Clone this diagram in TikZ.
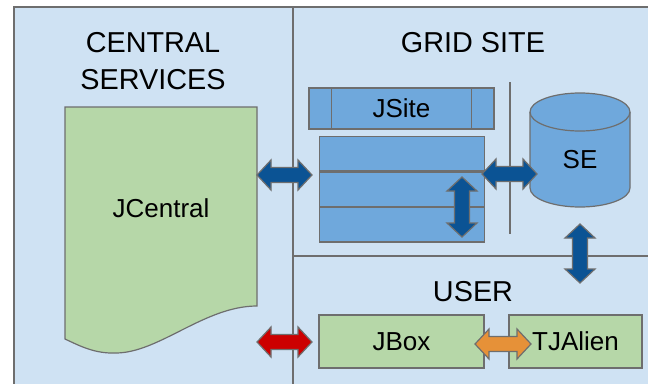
\documentclass[tikz,border=0pt]{standalone}
\usepackage{fontspec}
\setmainfont{Liberation Sans}
\usetikzlibrary{calc}
\definecolor{panel}{HTML}{CFE2F3}
\definecolor{edge}{HTML}{6E6E6E}
\definecolor{leaf}{HTML}{B6D7A8}
\definecolor{sky}{HTML}{6FA8DC}
\definecolor{navy}{HTML}{0B5394}
\definecolor{brick}{HTML}{CC0000}
\definecolor{amber}{HTML}{E69138}
\tikzset{
  box/.style={draw=edge,line width=1.2pt,inner sep=0pt},
  greenbox/.style={box,fill=leaf},
  bluebox/.style={box,fill=sky},
  lbl/.style={font=\fontsize{26}{30}\selectfont},
  ttl/.style={font=\fontsize{28.8}{37}\selectfont,align=center},
}
% double block arrow: colour, tip, tip
\newcommand\blockarr[3]{%
  \filldraw[fill=#1,draw=edge,line width=1.2pt,line join=miter]
    (#2) -- ($(#2)!14pt!(#3)!15pt!90:(#3)$) -- ($(#2)!14pt!(#3)!7.5pt!90:(#3)$)
    -- ($(#3)!14pt!(#2)!7.5pt!-90:(#2)$) -- ($(#3)!14pt!(#2)!15pt!-90:(#2)$)
    -- (#3) -- ($(#3)!14pt!(#2)!15pt!90:(#2)$) -- ($(#3)!14pt!(#2)!7.5pt!90:(#2)$)
    -- ($(#2)!14pt!(#3)!7.5pt!-90:(#3)$) -- ($(#2)!14pt!(#3)!15pt!-90:(#3)$) -- cycle;}
\begin{document}
\begin{tikzpicture}[x=1pt,y=-1pt]
\useasboundingbox (0,0) rectangle (648,383);
% regions
\draw[fill=panel,draw=edge,line width=1.5pt] (14,7) rectangle (660,395);
\draw[edge,line width=1.5pt] (293,7) -- (293,395) (293,256) -- (660,256);
\node[ttl] (central) at (153,61.5) {CENTRAL\\SERVICES};
\node[ttl] (grid) at (473,43) {GRID SITE};
\node[ttl] (user) at (473,292) {USER};
% central services
\draw[greenbox] (65,107) -- (257,107) -- (257,306) .. controls (205,306) and (160,352) .. (117,353)
  .. controls (95,354) and (80,346) .. (65,339) -- cycle;
\node[lbl] (jcentral) at (161,208) {JCentral};
% grid site
\node[bluebox,lbl,minimum width=185,minimum height=41] (jsite) at (401.5,108.5) {JSite};
\draw[edge,line width=1.2pt] ($(jsite.north west)+(23,0)$) -- ($(jsite.south west)+(23,0)$)
  ($(jsite.north east)+(-23,0)$) -- ($(jsite.south east)+(-23,0)$);
\node[bluebox,minimum width=165,minimum height=34.3,anchor=north west] (row1) at (319,136) {};
\node[bluebox,minimum width=165,minimum height=34.3,anchor=north] (row2) at (row1.south) {};
\node[bluebox,minimum width=165,minimum height=34.3,anchor=north] (row3) at (row2.south) {};
\draw[edge,line width=1.2pt] (510,82) -- (510,234);
\filldraw[fill=sky,draw=edge,line width=1.2pt] (530,112) -- (530,188) arc (180:360:50pt and 19pt)
  -- (630,112) arc (0:180:50pt and 19pt) -- cycle;
\draw[edge,line width=1.2pt] (530,112) arc (180:360:50pt and 19pt);
\node[lbl] (se) at (580,160) {SE};
% user
\node[greenbox,lbl,minimum width=165,minimum height=53] (jbox) at (401.5,341.5) {JBox};
\node[greenbox,lbl,minimum width=133,minimum height=53] (tjalien) at (575.5,341.5) {TJAlien};
% arrows
\coordinate (jc-r) at (257,175); \coordinate (st-l) at (312,175);
\coordinate (st-r) at (482,174); \coordinate (se-l) at (537,174);
\coordinate (st-t) at (462,177); \coordinate (st-b) at (462,237);
\coordinate (se-b) at (580,224); \coordinate (us-t) at (580,283);
\coordinate (jc-b) at (257,342); \coordinate (jb-l) at (312,342);
\coordinate (jb-r) at (475,344); \coordinate (tj-l) at (531,344);
\blockarr{navy}{jc-r}{st-l}
\blockarr{navy}{st-r}{se-l}
\blockarr{navy}{st-t}{st-b}
\blockarr{navy}{se-b}{us-t}
\blockarr{brick}{jc-b}{jb-l}
\blockarr{amber}{jb-r}{tj-l}
\end{tikzpicture}
\end{document}
